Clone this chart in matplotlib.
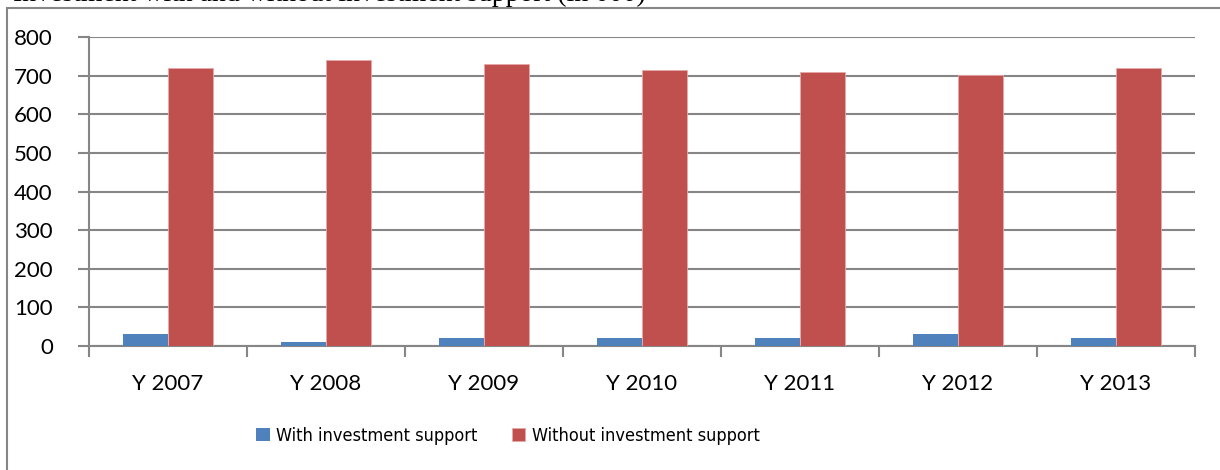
import matplotlib
matplotlib.use("Agg")
import matplotlib.pyplot as plt
import numpy as np
from matplotlib.patches import Rectangle

categories = ["Y 2007", "Y 2008", "Y 2009", "Y 2010", "Y 2011", "Y 2012", "Y 2013"]
with_support = [30, 10, 20, 20, 20, 30, 20]
without_support = [720, 740, 730, 715, 710, 702, 720]
series_names = ["With investment support", "Without investment support"]
y_ticks = [0, 100, 200, 300, 400, 500, 600, 700, 800]

BLUE = "#4F81BD"
RED = "#C0504D"
GRID = "#868686"
FONT = "Lato"

W, H = 1220, 470
fig = plt.figure(figsize=(W / 100, H / 100), dpi=100)

# outer chart frame (extends beyond right/bottom edges)
fig.patches.append(Rectangle((7 / W, -0.1), 1.2, 1 - 8 / H + 0.1,
                             transform=fig.transFigure, fill=False,
                             edgecolor=GRID, linewidth=1.5))

# partially cut-off caption at top (as in the reference)
fig.text(13 / W, 1 - 1 / H, "Investment with and without investment support (in 000)",
         family="Liberation Serif", fontsize=20, va="baseline", ha="left", color="black")

ax = fig.add_axes([89 / W, 1 - 346 / H, (1195 - 89) / W, (346 - 37) / H])

x = np.arange(len(categories))
bw = 0.285
ax.bar(x - bw / 2, with_support, bw, color=BLUE, label=series_names[0], zorder=3)
ax.bar(x + bw / 2, without_support, bw, color=RED, label=series_names[1], zorder=3,
       edgecolor="#E8A9A8", linewidth=0.6)

ax.set_xlim(-0.5, len(categories) - 0.5)
ax.set_ylim(0, 800)
ax.set_yticks(y_ticks)
ax.set_yticklabels([str(v) for v in y_ticks], family=FONT, fontsize=16)
ax.yaxis.grid(True, color=GRID, linewidth=1.5, zorder=0)
ax.set_axisbelow(True)

# x ticks at category boundaries, labels at centers
ax.set_xticks(np.arange(len(categories) + 1) - 0.5)
ax.set_xticklabels([])
ax.set_xticks(x, minor=True)
ax.set_xticklabels(categories, minor=True, family=FONT, fontsize=16)
ax.tick_params(axis="x", which="minor", length=0, pad=20)
ax.tick_params(axis="x", which="major", length=8, width=1.5, color=GRID)
ax.tick_params(axis="y", length=8, width=1.5, color=GRID, pad=18)

for s in ["top", "right"]:
    ax.spines[s].set_visible(False)
for s in ["left", "bottom"]:
    ax.spines[s].set_color(GRID)
    ax.spines[s].set_linewidth(1.5)

leg = fig.legend(loc="center", bbox_to_anchor=(508 / W, 1 - 436 / H), ncol=2,
                 frameon=False,
                 prop={"family": "DejaVu Sans", "stretch": "condensed", "size": 13},
                 handlelength=0.75, handleheight=0.75, handletextpad=0.35,
                 columnspacing=1.9)

fig.savefig("out.png", dpi=100)
